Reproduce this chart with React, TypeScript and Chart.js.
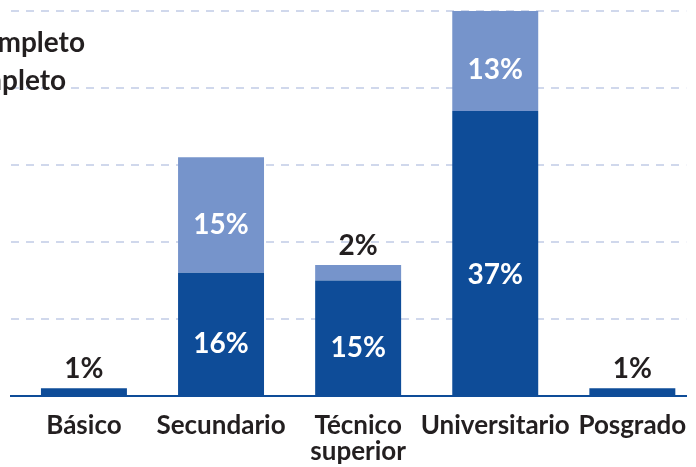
import React, { useEffect, useRef } from "react";
import { Chart, registerables } from "chart.js";

Chart.register(...registerables);

const categories: (string | string[])[] = ["Básico", "Secundario", ["Técnico", "superior"], "Universitario", "Posgrado"];
const completo = [1, 16, 15, 37, 1];
const incompleto = [0, 15, 2, 13, 0];
const seriesNames = ["Completo", "Incompleto"];
const yMin = 0;
const yMax = 50;
const yStep = 10;

const DARK = "#0e4c98";
const LIGHT = "#7694cb";
const GRID = "#d0d8ec";
const TEXT = "#231f20";
const FONT = "Lato";

const labelsPlugin = {
  id: "customLabels",
  afterDatasetsDraw(chart: any) {
    const ctx = chart.ctx;
    ctx.save();
    ctx.font = `bold 28px ${FONT}`;
    ctx.textAlign = "center";
    const metas = [chart.getDatasetMeta(0), chart.getDatasetMeta(1)];
    const n = completo.length;
    for (let i = 0; i < n; i++) {
      let stackTop = Infinity;
      let topVal = 0;
      metas.forEach((meta: any, d: number) => {
        const el = meta.data[i];
        const v = chart.data.datasets[d].data[i].y;
        if (!el || !v) return;
        if (el.y < stackTop) {
          stackTop = el.y;
          topVal = v;
        }
        if (v >= 5) {
          ctx.fillStyle = "#ffffff";
          ctx.textBaseline = "middle";
          const h = el.base - el.y;
          ctx.fillText(`${v}%`, el.x, el.base - h * 0.43 + 2);
        }
      });
      if (topVal > 0 && topVal < 5) {
        const el = metas[0].data[i];
        ctx.fillStyle = TEXT;
        ctx.textBaseline = "alphabetic";
        ctx.fillText(`${topVal}%`, el.x, stackTop - 10);
      }
    }
    ctx.restore();
  },
};

const legendPlugin = {
  id: "customLegend",
  afterDraw(chart: any) {
    const ctx = chart.ctx;
    ctx.save();
    ctx.font = `bold 28px ${FONT}`;
    ctx.fillStyle = TEXT;
    ctx.textAlign = "left";
    ctx.textBaseline = "alphabetic";
    const w = ctx.measureText(seriesNames[1]).width;
    const x0 = 85 - w;
    ctx.fillText(seriesNames[1], x0, 52);
    ctx.fillText(seriesNames[0], x0, 90);
    ctx.restore();
  },
};

export default function App() {
  const ref = useRef<HTMLCanvasElement | null>(null);
  useEffect(() => {
    if (!ref.current) return;
    const chart = new Chart(ref.current, {
      type: "bar",
      data: {
        datasets: [
          {
            label: seriesNames[0],
            data: completo.map((v, i) => ({ x: i, y: v })),
            backgroundColor: DARK,
          },
          {
            label: seriesNames[1],
            data: incompleto.map((v, i) => ({ x: i, y: v })),
            backgroundColor: LIGHT,
          },
        ],
      },
      options: {
        animation: false,
        responsive: false,
        maintainAspectRatio: false,
        layout: { padding: { left: 11, right: 9, top: 11, bottom: 0 } },
        datasets: { bar: { categoryPercentage: 1, barPercentage: 0.627 } } as any,
        scales: {
          x: {
            type: "linear",
            stacked: true,
            offset: false,
            min: -0.532,
            max: 4.393,
            afterBuildTicks: (s: any) => {
              s.ticks = categories.map((_, i) => ({ value: i }));
            },
            afterFit: (s: any) => {
              s.height = 71;
            },
            ticks: {
              callback: (v: any) => categories[v as number],
              color: TEXT,
              font: { family: FONT, size: 26, weight: "bold", lineHeight: 1.0 },
              padding: 9,
              maxRotation: 0,
              autoSkip: false,
            },
            grid: { display: false, offset: false },
            border: { display: true, color: DARK, width: 2 },
          },
          y: {
            stacked: true,
            min: yMin,
            max: yMax,
            ticks: { display: false, stepSize: yStep },
            grid: { color: GRID, lineWidth: 2, drawTicks: false },
            border: { display: false, dash: [8, 7] },
            afterFit: (s: any) => {
              s.width = 0;
            },
          },
        },
        plugins: { legend: { display: false }, tooltip: { enabled: false } },
      } as any,
      plugins: [labelsPlugin, legendPlugin],
    });
    return () => chart.destroy();
  }, []);
  return (
    <div style={{ position: "fixed", left: 0, top: 0, width: 696, height: 467, overflow: "hidden", background: "#fff" }}>
      <canvas ref={ref} width={696} height={467} style={{ display: "block" }} />
    </div>
  );
}
